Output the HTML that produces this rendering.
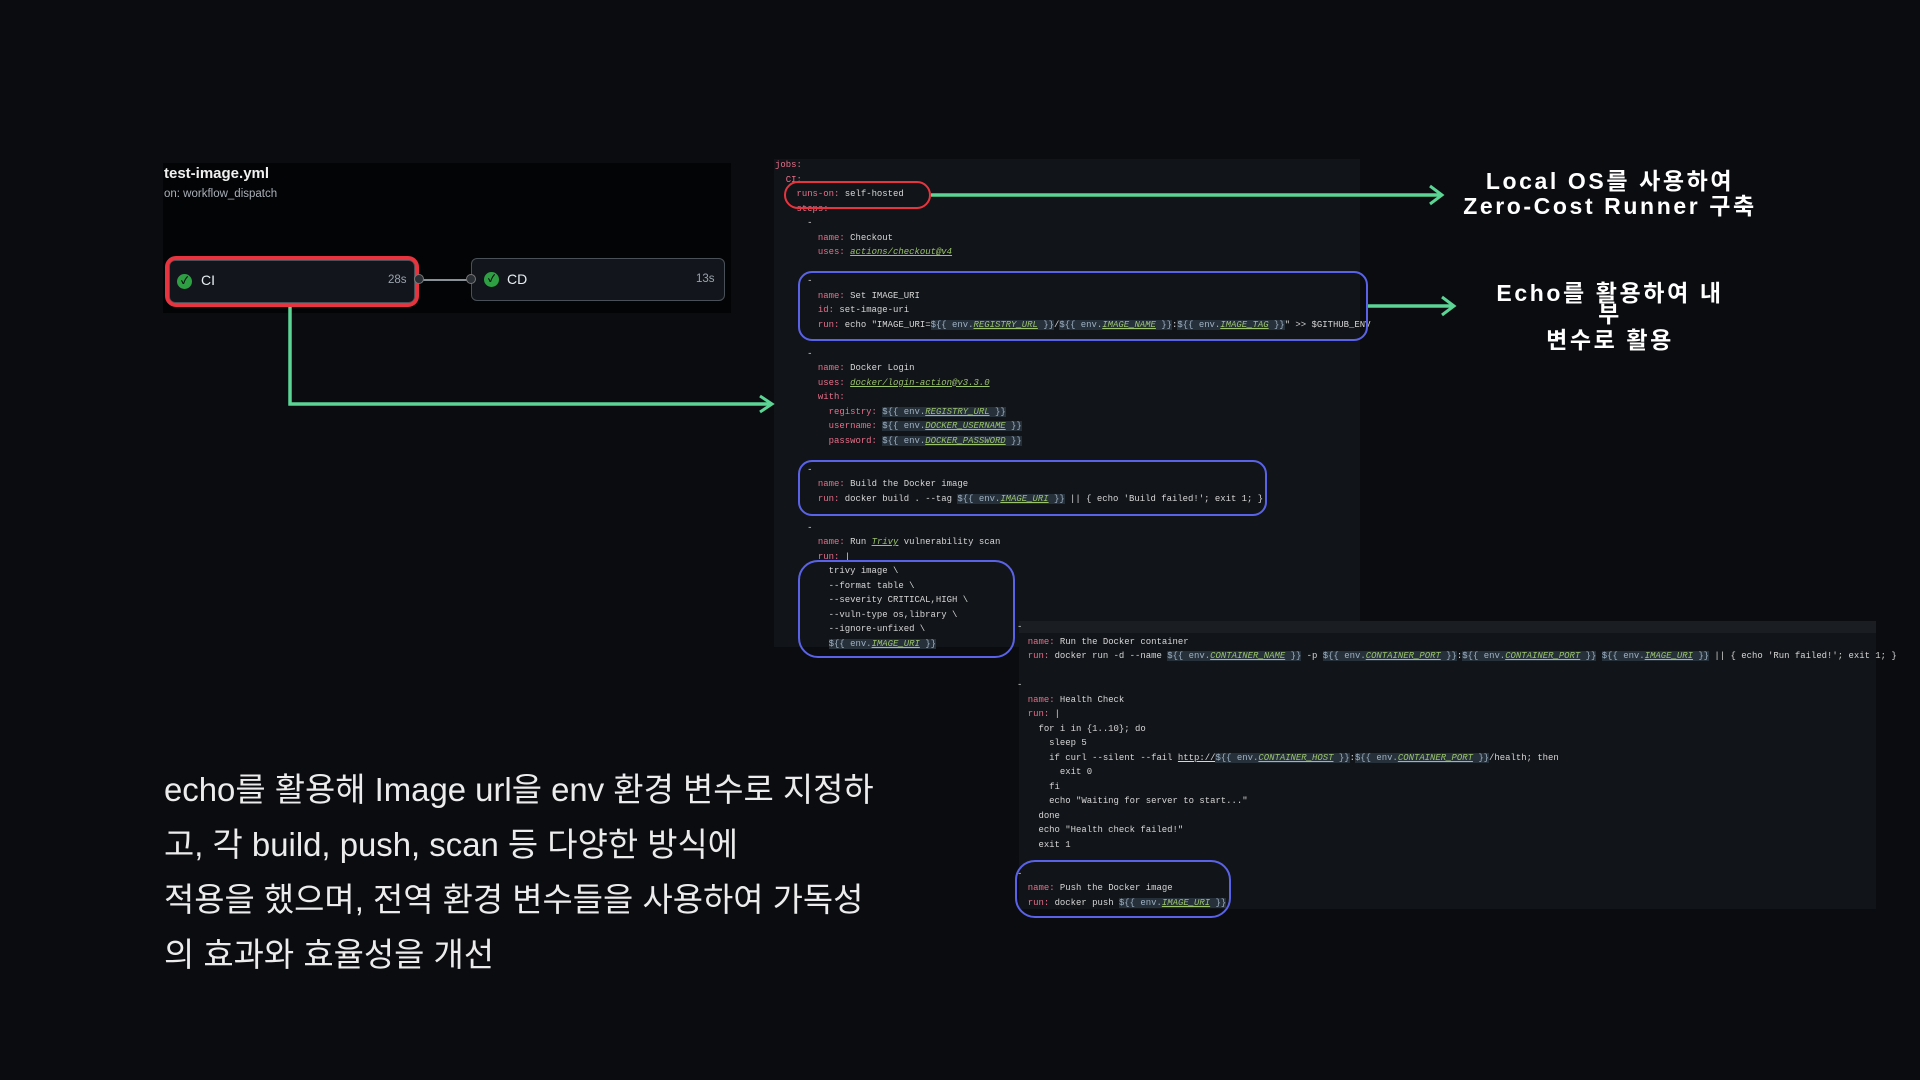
<!DOCTYPE html>
<html><head><meta charset="utf-8"><style>
*{margin:0;padding:0;box-sizing:border-box}
body{width:1920px;height:1080px;background:#0b0c10;position:relative;overflow:hidden;font-family:"Liberation Sans","Noto Sans CJK KR",sans-serif}
.abs{position:absolute}
.panel{position:absolute;left:163px;top:163px;width:568px;height:150px;background:#030406}
.node{position:absolute;background:#12161c;border:1.5px solid #4a5058;border-radius:6px;color:#e6edf3;font-size:14px}
.chk{position:absolute;width:15px;height:15px;border-radius:50%;background:#2ea043;color:#0b0c10;font-size:10px;line-height:15px;text-align:center;font-weight:bold}
pre{position:absolute;font-family:"Liberation Mono",monospace;font-size:8.95px;line-height:14.5px;color:#d6d6d6;white-space:pre}
.k{color:#e8708a}
.l{color:#9bc26d;font-style:italic;text-decoration:underline}
.e{background:#25303b;color:#9fb0c0}
.code{position:absolute;background:#111418}
.box{position:absolute;border:2px solid #5a63e8;border-radius:14px}
.rt{position:absolute;color:#fff;font-weight:bold;font-size:23px;letter-spacing:2.6px;text-align:center;width:400px;line-height:25px}
.bt{position:absolute;left:164px;color:#ececec;font-size:32.9px;font-family:"Liberation Sans","Noto Sans CJK KR",sans-serif;line-height:55px;top:762px}
</style></head><body>

<div class="panel"></div>
<div class="abs" style="left:164px;top:165px;color:#f0f0f0;font-size:15px;font-weight:bold">test-image.yml</div>
<div class="abs" style="left:164px;top:188px;color:#aab0b8;font-size:11.5px">on: workflow_dispatch</div>

<div class="node" style="left:169px;top:260px;width:246px;height:43px"></div>
<div class="chk" style="left:177px;top:274px">✓</div>
<div class="abs" style="left:201px;top:272px;color:#e6edf3;font-size:14px">CI</div>
<div class="abs" style="left:388px;top:274px;color:#9aa2ab;font-size:11.5px">28s</div>
<div class="abs" style="left:165px;top:256px;width:254px;height:51px;border:4px solid #e8343e;border-radius:11px"></div>

<div class="node" style="left:471px;top:258px;width:254px;height:43px"></div>
<div class="chk" style="left:484px;top:272px">✓</div>
<div class="abs" style="left:507px;top:271px;color:#e6edf3;font-size:14px">CD</div>
<div class="abs" style="left:696px;top:273px;color:#9aa2ab;font-size:11.5px">13s</div>
<div class="abs" style="left:420px;top:279px;width:52px;height:1.5px;background:#8a9098"></div>
<div class="abs" style="left:414px;top:274px;width:10px;height:10px;border-radius:50%;background:#2a2f36;border:1px solid #777"></div>
<div class="abs" style="left:466px;top:274px;width:10px;height:10px;border-radius:50%;background:#2a2f36;border:1px solid #777"></div>

<div class="code" style="left:774px;top:159px;width:586px;height:488px"></div>
<div class="code" style="left:1019px;top:621px;width:857px;height:288px"></div>
<div class="abs" style="left:1019px;top:621px;width:857px;height:12px;background:#1a1e23"></div>

<svg class="abs" style="left:0;top:0" width="1920" height="1080">
<g fill="none" stroke="#5bd494" stroke-width="3.5">
<polyline points="290,307 290,404 770,404"/>
<polyline points="760,396 772,404 760,412" stroke-width="3"/>
<line x1="931" y1="195" x2="1440" y2="195"/>
<polyline points="1430,186 1442,195 1430,204" stroke-width="3"/>
<line x1="1368" y1="306" x2="1452" y2="306"/>
<polyline points="1442,297 1454,306 1442,315" stroke-width="3"/>
</g>
</svg>

<pre style="left:775px;top:158px"><span class="k">jobs:</span>
  <span class="k">CI:</span>
    <span class="k">runs-on:</span> self-hosted
    <span class="k">steps:</span>
      -
        <span class="k">name:</span> Checkout
        <span class="k">uses:</span> <span class="l">actions/checkout@v4</span>

      -
        <span class="k">name:</span> Set IMAGE_URI
        <span class="k">id:</span> set-image-uri
        <span class="k">run:</span> echo "IMAGE_URI=<span class="e">${{ env.<span class="l">REGISTRY_URL</span> }}</span>/<span class="e">${{ env.<span class="l">IMAGE_NAME</span> }}</span>:<span class="e">${{ env.<span class="l">IMAGE_TAG</span> }}</span>" &gt;&gt; $GITHUB_ENV

      -
        <span class="k">name:</span> Docker Login
        <span class="k">uses:</span> <span class="l">docker/login-action@v3.3.0</span>
        <span class="k">with:</span>
          <span class="k">registry:</span> <span class="e">${{ env.<span class="l">REGISTRY_URL</span> }}</span>
          <span class="k">username:</span> <span class="e">${{ env.<span class="l">DOCKER_USERNAME</span> }}</span>
          <span class="k">password:</span> <span class="e">${{ env.<span class="l">DOCKER_PASSWORD</span> }}</span>

      -
        <span class="k">name:</span> Build the Docker image
        <span class="k">run:</span> docker build . --tag <span class="e">${{ env.<span class="l">IMAGE_URI</span> }}</span> || { echo 'Build failed!'; exit 1; }

      -
        <span class="k">name:</span> Run <span class="l">Trivy</span> vulnerability scan
        <span class="k">run:</span> |
          trivy image \
          --format table \
          --severity CRITICAL,HIGH \
          --vuln-type os,library \
          --ignore-unfixed \
          <span class="e">${{ env.<span class="l">IMAGE_URI</span> }}</span></pre>

<pre style="left:1017px;top:620px">-
  <span class="k">name:</span> Run the Docker container
  <span class="k">run:</span> docker run -d --name <span class="e">${{ env.<span class="l">CONTAINER_NAME</span> }}</span> -p <span class="e">${{ env.<span class="l">CONTAINER_PORT</span> }}</span>:<span class="e">${{ env.<span class="l">CONTAINER_PORT</span> }}</span> <span class="e">${{ env.<span class="l">IMAGE_URI</span> }}</span> || { echo 'Run failed!'; exit 1; }

-
  <span class="k">name:</span> Health Check
  <span class="k">run:</span> |
    for i in {1..10}; do
      sleep 5
      if curl --silent --fail <span style="text-decoration:underline">http://</span><span class="e">${{ env.<span class="l">CONTAINER_HOST</span> }}</span>:<span class="e">${{ env.<span class="l">CONTAINER_PORT</span> }}</span>/health; then
        exit 0
      fi
      echo "Waiting for server to start..."
    done
    echo "Health check failed!"
    exit 1

-
  <span class="k">name:</span> Push the Docker image
  <span class="k">run:</span> docker push <span class="e">${{ env.<span class="l">IMAGE_URI</span> }}</span></pre>

<div class="abs" style="left:784px;top:181px;width:147px;height:28px;border:2px solid #e8343e;border-radius:14px"></div>
<div class="box" style="left:798px;top:271px;width:570px;height:70px"></div>
<div class="box" style="left:798px;top:460px;width:469px;height:56px"></div>
<div class="box" style="left:798px;top:560px;width:217px;height:98px;border-radius:20px"></div>
<div class="box" style="left:1015px;top:860px;width:216px;height:58px;border-radius:20px"></div>

<div class="rt" style="left:1410px;top:169px">Local OS를 사용하여<br>Zero-Cost Runner 구축</div>
<div class="rt" style="left:1410px;top:281px">Echo를 활용하여 내</div>
<div class="rt" style="left:1410px;top:302px">부</div>
<div class="rt" style="left:1410px;top:328px">변수로 활용</div>

<div class="bt">echo를 활용해 Image url을 env 환경 변수로 지정하<br>고, 각 build, push, scan 등 다양한 방식에<br>적용을 했으며, 전역 환경 변수들을 사용하여 가독성<br>의 효과와 효율성을 개선</div>
</body></html>
